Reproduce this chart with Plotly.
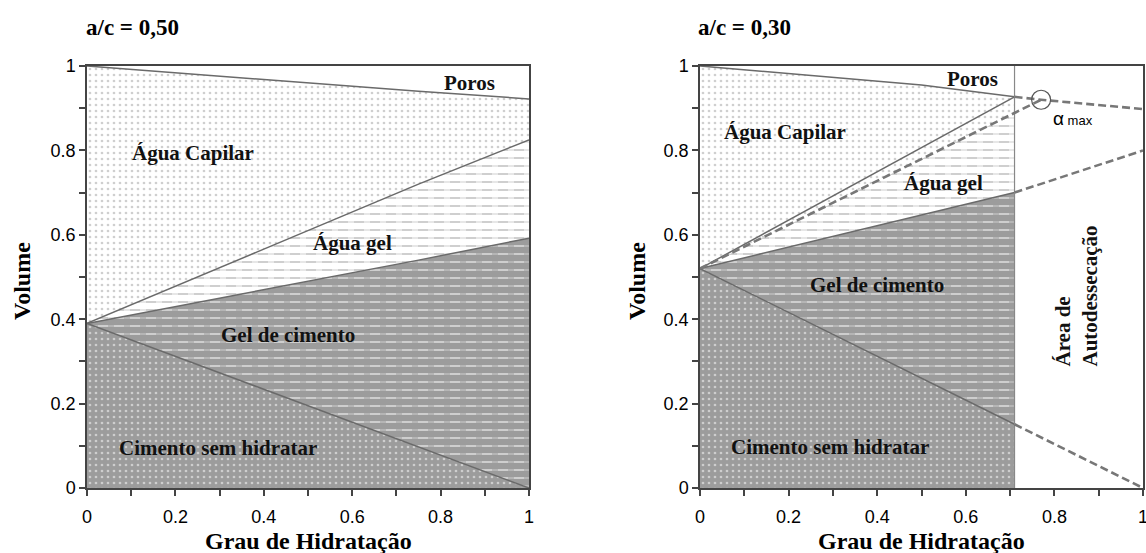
import plotly.graph_objects as go

# ---------------- data ----------------
# a/c = 0,50
hyd_050 = [0.0, 0.25, 0.5, 0.75, 1.0]
cimento_050 = [0.39, 0.2925, 0.195, 0.0975, 0.0]
gel_cimento_050 = [0.39, 0.44, 0.49, 0.54, 0.592]
agua_gel_050 = [0.39, 0.50, 0.61, 0.72, 0.825]
poros_050 = [1.0, 0.98, 0.96, 0.94, 0.922]

# a/c = 0,30 (hydration stops at alpha = 0.71)
hyd_030 = [0.0, 0.25, 0.5, 0.71]
cimento_030 = [0.52, 0.39, 0.26, 0.151]
gel_cimento_030 = [0.52, 0.5835, 0.647, 0.70]
agua_gel_030 = [0.52, 0.65, 0.78, 0.889]
limite_030 = [0.52, 0.663, 0.807, 0.927]
poros_030 = [1.0, 0.978, 0.955, 0.927]

# theoretical continuation beyond the hydration limit
hyd_limite = 0.71
alpha_max = 0.77
alpha_max_vol = 0.92
ext_x = [0.71, 1.0]
ext_cimento_030 = [0.151, 0.0]
ext_gel_030 = [0.70, 0.80]
ext_poros_x = [0.71, 0.77, 1.0]
ext_poros_030 = [0.927, 0.92, 0.898]
ext_agua_gel_x = [0.0, 0.25, 0.5, 0.71, 0.77]
ext_agua_gel_030 = [0.52, 0.65, 0.78, 0.889, 0.92]

x_ticks = [0, 0.2, 0.4, 0.6, 0.8, 1]
y_ticks = [0, 0.2, 0.4, 0.6, 0.8, 1]

# ---------------- style ----------------
W, H = 1146, 553
GRAY = "#9c9c9c"
LIGHT = "#a0a0a0"
EDGE = "#6a6a6a"
SERIF = "Liberation Serif"
SANS = "Liberation Sans"


def px(x):
    return x / W


def py(y):
    return 1 - y / H


def band(x, lower, upper):
    return list(x) + list(x)[::-1], list(upper) + list(lower)[::-1]


fig = go.Figure()


def dots_region(xa, ya, x, lower, upper, bg, fg, size=6, solidity=0.16):
    bx, by = band(x, lower, upper)
    fig.add_trace(go.Scatter(
        x=bx, y=by, xaxis=xa, yaxis=ya, mode="none", fill="toself",
        fillcolor=bg,
        fillpattern=dict(shape=".", bgcolor=bg, fgcolor=fg, size=size,
                         solidity=solidity),
        hoverinfo="skip", showlegend=False))


def dashes_region(xa, ya, x, lower, upper, bg, fg):
    bx, by = band(x, lower, upper)
    # horizontal rows...
    fig.add_trace(go.Scatter(
        x=bx, y=by, xaxis=xa, yaxis=ya, mode="none", fill="toself",
        fillcolor=bg,
        fillpattern=dict(shape="-", bgcolor=bg, fgcolor=fg, size=8,
                         solidity=0.25),
        hoverinfo="skip", showlegend=False))
    # ...broken into dashes by bars of the background colour
    fig.add_trace(go.Scatter(
        x=bx, y=by, xaxis=xa, yaxis=ya, mode="none", fill="toself",
        fillcolor="rgba(0,0,0,0)",
        fillpattern=dict(shape="|", bgcolor="rgba(0,0,0,0)", fgcolor=bg,
                         size=16, solidity=0.375),
        hoverinfo="skip", showlegend=False))


def edge(xa, ya, x, y, dash="solid", width=1.5, color=EDGE):
    fig.add_trace(go.Scatter(
        x=x, y=y, xaxis=xa, yaxis=ya, mode="lines",
        line=dict(color=color, width=width, dash=dash),
        hoverinfo="skip", showlegend=False))


zeros_050 = [0.0] * len(hyd_050)
zeros_030 = [0.0] * len(hyd_030)

# ---- a/c = 0,50 ----
dots_region("x", "y", hyd_050, zeros_050, cimento_050, GRAY, "white")
dashes_region("x", "y", hyd_050, cimento_050, gel_cimento_050, GRAY, "white")
dashes_region("x", "y", hyd_050, gel_cimento_050, agua_gel_050, "white", LIGHT)
dots_region("x", "y", hyd_050, agua_gel_050, poros_050, "white", LIGHT)
for serie in (cimento_050, gel_cimento_050, agua_gel_050, poros_050):
    edge("x", "y", hyd_050, serie)

# ---- a/c = 0,30 ----
dots_region("x2", "y2", hyd_030, zeros_030, cimento_030, GRAY, "white")
dashes_region("x2", "y2", hyd_030, cimento_030, gel_cimento_030, GRAY, "white")
dashes_region("x2", "y2", hyd_030, gel_cimento_030, agua_gel_030, "white", LIGHT)
dots_region("x2", "y2", hyd_030, agua_gel_030, poros_030, "white", LIGHT)
for serie in (cimento_030, gel_cimento_030, limite_030, poros_030):
    edge("x2", "y2", hyd_030, serie)
edge("x2", "y2", [hyd_limite, hyd_limite], [0, 1], width=1.2, color="#888888")

DASHED = "#777777"
DASH = "8px,4px"
edge("x2", "y2", ext_x, ext_cimento_030, dash=DASH, width=2.6, color=DASHED)
edge("x2", "y2", ext_x, ext_gel_030, dash=DASH, width=2.6, color=DASHED)
edge("x2", "y2", ext_poros_x, ext_poros_030, dash=DASH, width=2.6, color=DASHED)
edge("x2", "y2", ext_agua_gel_x, ext_agua_gel_030, dash=DASH, width=2.6, color=DASHED)

fig.add_trace(go.Scatter(
    x=[alpha_max], y=[alpha_max_vol], xaxis="x2", yaxis="y2", mode="markers",
    marker=dict(symbol="circle-open", size=19, color="#555555",
                line=dict(width=1.2, color="#555555")),
    hoverinfo="skip", showlegend=False))

# ---------------- axes ----------------
x_dom_1 = [px(87), px(529)]
x_dom_2 = [px(700), px(1143)]
y_dom = [py(488), py(66)]

axis_common = dict(
    range=[0, 1], showgrid=False, zeroline=False, automargin=False,
    showline=True, linecolor="#444444", linewidth=1.5, mirror=True,
    ticks="outside", ticklen=6, tickwidth=1.5, tickcolor="#444444",
    tickfont=dict(family=SANS, size=18, color="black"),
    ticklabeloverflow="allow",
    minor=dict(dtick=0.1, ticks="outside", ticklen=6, tickwidth=1.5,
               tickcolor="#444444"),
    fixedrange=True,
)
x_extra = dict(tickvals=x_ticks, ticklabelstandoff=6)
y_extra = dict(tickvals=y_ticks)

fig.update_layout(
    width=W, height=H,
    margin=dict(l=0, r=0, t=0, b=0, pad=0),
    paper_bgcolor="white", plot_bgcolor="white",
    showlegend=False,
    xaxis=dict(domain=x_dom_1, anchor="y", **x_extra, **axis_common),
    yaxis=dict(domain=y_dom, anchor="x", **y_extra, **axis_common),
    xaxis2=dict(domain=x_dom_2, anchor="y2", **x_extra, **axis_common),
    yaxis2=dict(domain=y_dom, anchor="x2", **y_extra, **axis_common),
)

# ---------------- text ----------------
def label(text, x, y, xa, ya, size=21, **kw):
    fig.add_annotation(text=text, x=x, y=y, xref=xa, yref=ya, showarrow=False,
                       xanchor="center", yanchor="middle",
                       font=dict(family=SERIF, size=size, color="#111111",
                                 weight="bold"), **kw)


def paper_label(text, x, y, size=24, xanchor="center", **kw):
    fig.add_annotation(text=text, x=px(x), y=py(y), xref="paper", yref="paper",
                       showarrow=False, xanchor=xanchor, yanchor="middle",
                       font=dict(family=SERIF, size=size, color="black",
                                 weight="bold"), **kw)


# titles
paper_label("a/c = 0,50", 84, 27, size=23, xanchor="left")
paper_label("a/c = 0,30", 696, 27, size=23, xanchor="left")
# axis titles
paper_label("Grau de Hidratação", 308, 541)
paper_label("Grau de Hidratação", 921, 541)
paper_label("Volume", 22, 281, textangle=-90)
paper_label("Volume", 637, 281, textangle=-90)

# region names, a/c = 0,50
label("Poros", 0.866, 0.96, "x", "y")
label("Água Capilar", 0.24, 0.794, "x", "y")
label("Água gel", 0.60, 0.58, "x", "y")
label("Gel de cimento", 0.455, 0.363, "x", "y")
label("Cimento sem hidratar", 0.296, 0.095, "x", "y")

# region names, a/c = 0,30
label("Poros", 0.616, 0.969, "x2", "y2")
label("Água Capilar", 0.192, 0.844, "x2", "y2")
label("Água gel", 0.549, 0.723, "x2", "y2")
label("Gel de cimento", 0.40, 0.481, "x2", "y2")
label("Cimento sem hidratar", 0.293, 0.097, "x2", "y2")
label("Área de<br>Autodessecação", 0.85, 0.455, "x2", "y2", textangle=-90,
      align="left")

fig.add_annotation(
    text="α<span style='font-size:13px'> max</span>", x=0.792, y=0.875,
    xref="x2", yref="y2", showarrow=False, xanchor="left", yanchor="middle",
    font=dict(family=SANS, size=19, color="black"))

fig.write_html("out.html")
